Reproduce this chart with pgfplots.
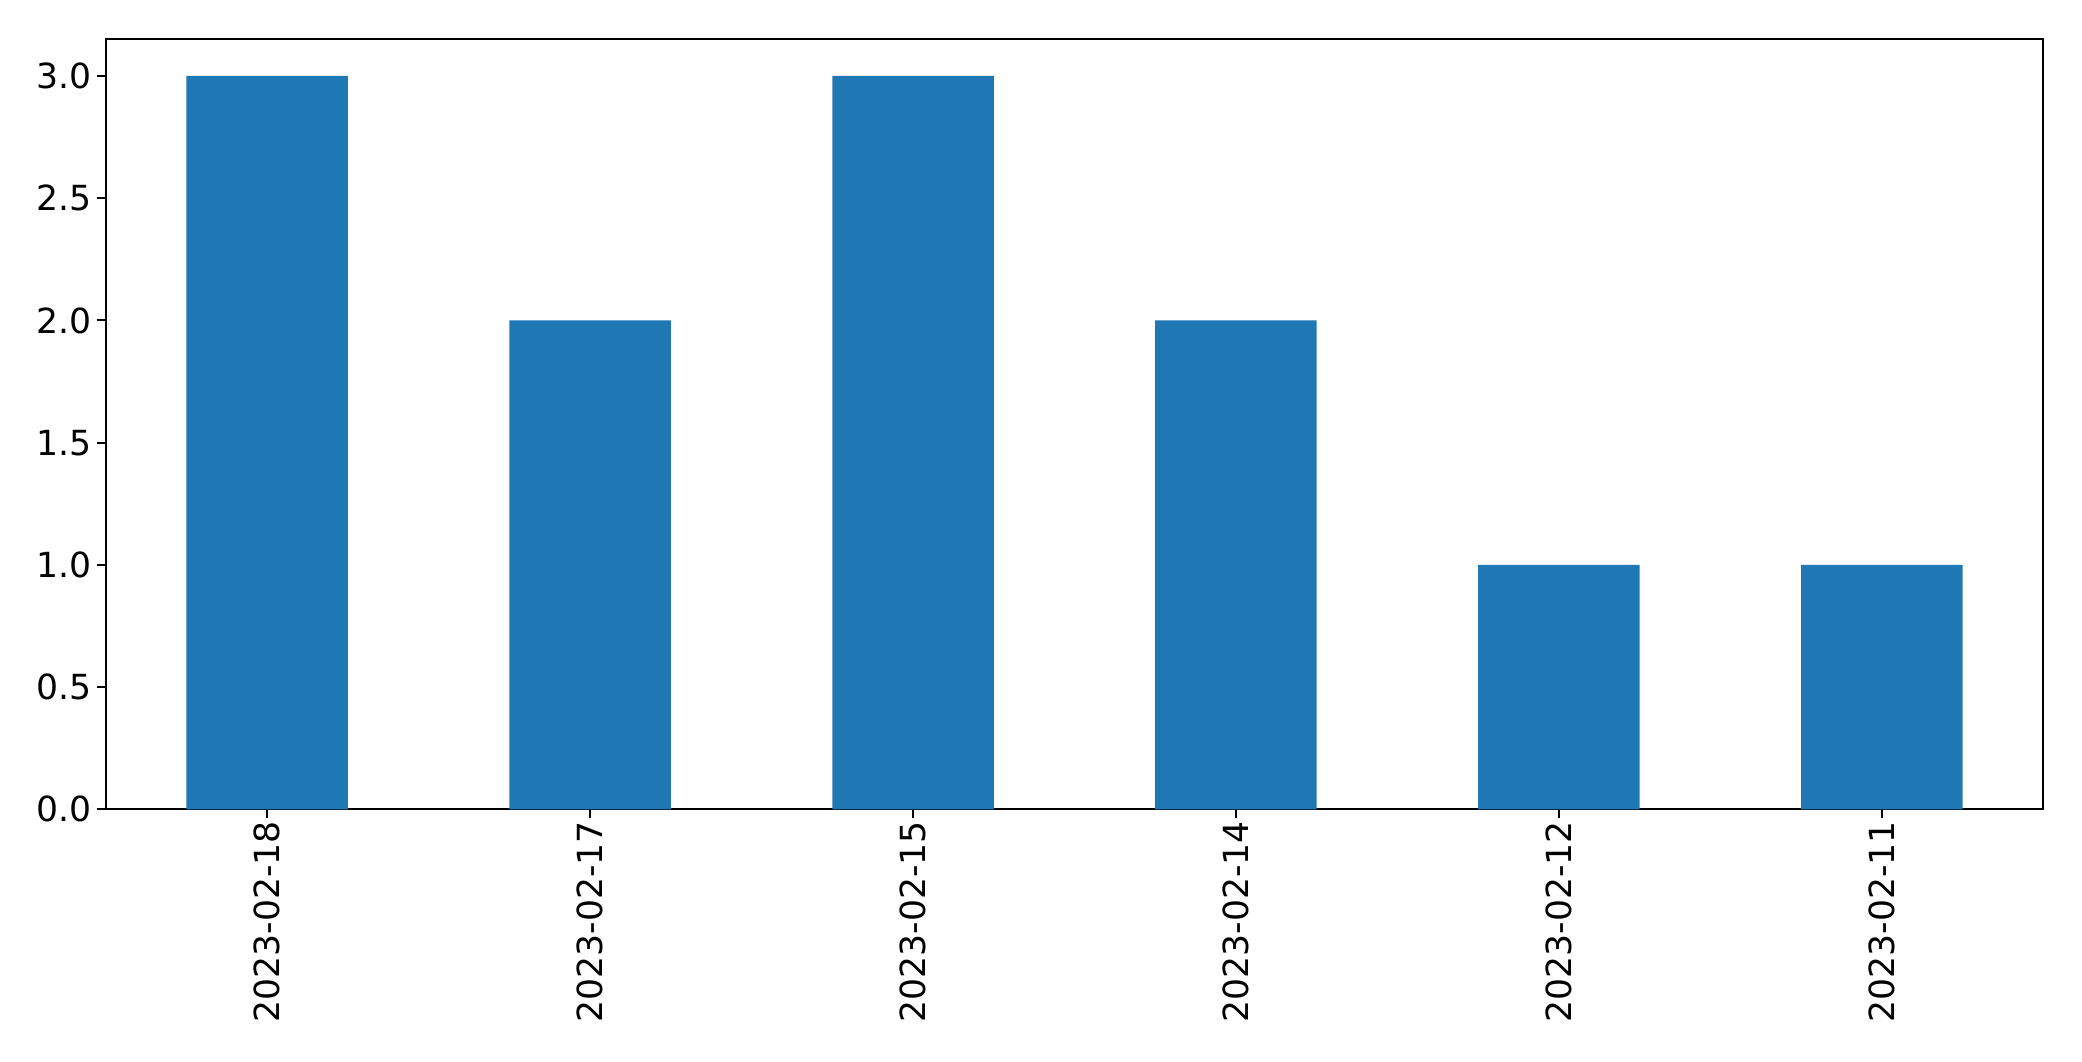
\documentclass[border=0pt]{standalone}
\usepackage{pgfplots}
\pgfplotsset{compat=1.18}
\usepackage{fontspec}
\setmainfont{DejaVu Sans}
\definecolor{mplblue}{HTML}{1F77B4}
\begin{document}
\begin{tikzpicture}
\useasboundingbox (-52.85pt,-125.85pt) rectangle (988.15pt,404.65pt);
\begin{axis}[
  scale only axis,
  width=968.8pt, height=385pt,
  at={(0pt,0pt)}, anchor=south west,
  xmin=-0.5, xmax=5.5, ymin=0, ymax=3.15,
  ybar, bar width=0.5, bar shift=0pt,
  xtick=data,
  xticklabels={2023-02-18,2023-02-17,2023-02-15,2023-02-14,2023-02-12,2023-02-11},
  ytick={0,0.5,1,1.5,2,2.5,3},
  tick align=outside,
  major tick length=4.5pt,
  xtick pos=bottom, ytick pos=left,
  axis line style={line width=1pt},
  every tick/.style={line width=1pt, black},
  tick label style={font=\fontsize{17.3}{20}\selectfont},
  /pgf/number format/assume math mode=true,
  yticklabel={\pgfmathprintnumber[fixed,fixed zerofill,precision=1]{\tick}},
  yticklabel style={inner sep=0pt, xshift=-2.3pt},
  xticklabel style={rotate=90, anchor=east, inner sep=0pt, xshift=-1.2pt},
]
\addplot[fill=mplblue, draw=none] coordinates {(0,3) (1,2) (2,3) (3,2) (4,1) (5,1)};
\end{axis}
\end{tikzpicture}
\end{document}
